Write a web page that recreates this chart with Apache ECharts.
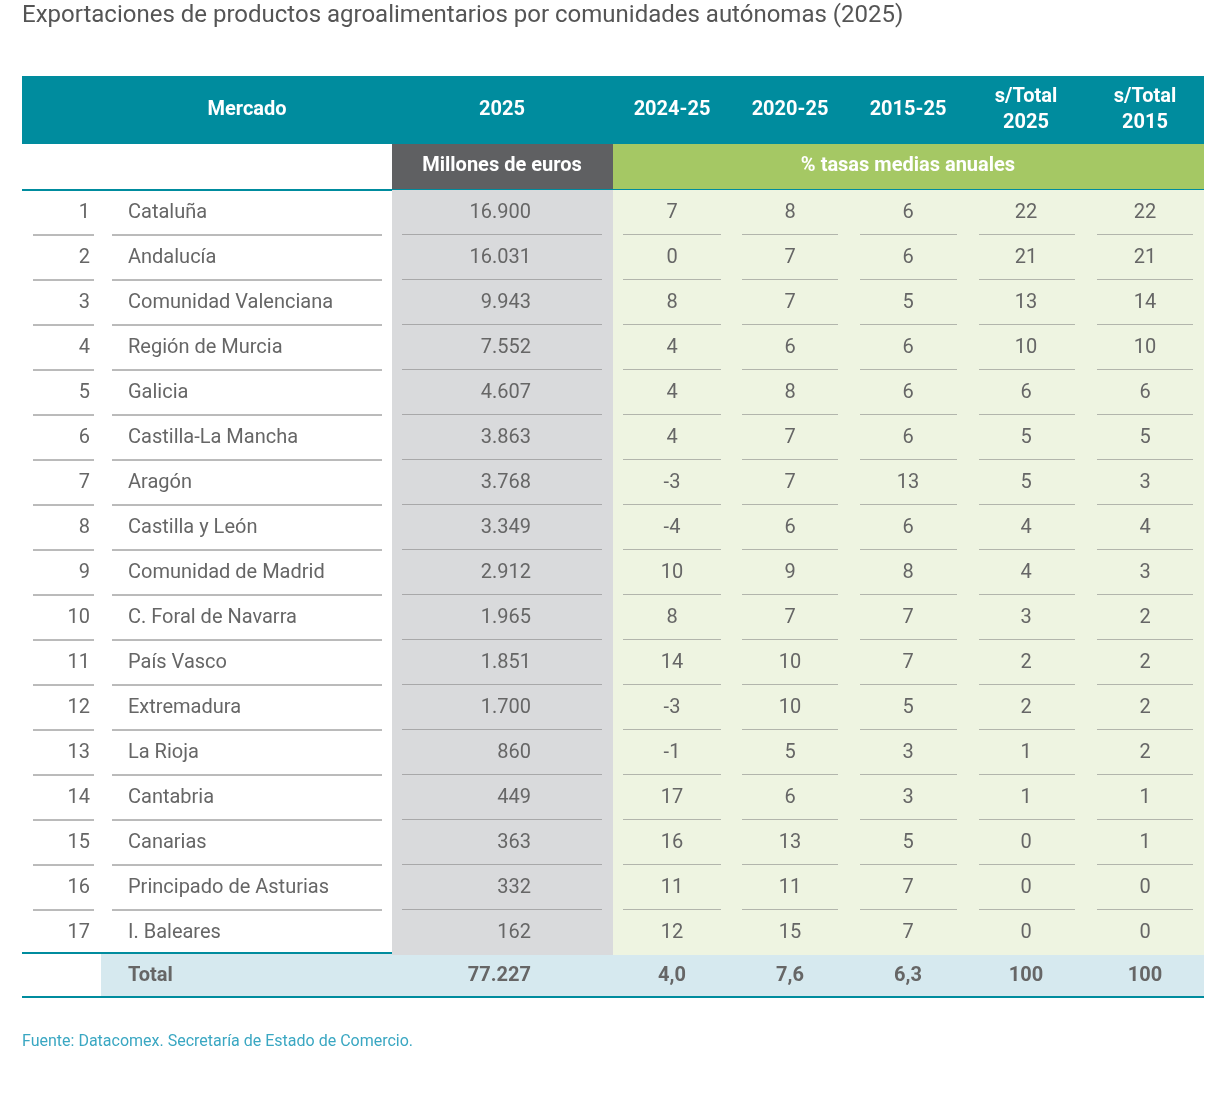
<!DOCTYPE html>
<html><head><meta charset="utf-8">
<script src="https://cdn.jsdelivr.net/npm/echarts@6/dist/echarts.min.js"></script>
<style>html,body{margin:0;background:#fff}#c{width:1232px;height:1110px}</style>
</head><body><div id="c"></div>
<script>
const regions = ["Cataluña","Andalucía","Comunidad Valenciana","Región de Murcia","Galicia","Castilla-La Mancha","Aragón","Castilla y León","Comunidad de Madrid","C. Foral de Navarra","País Vasco","Extremadura","La Rioja","Cantabria","Canarias","Principado de Asturias","I. Baleares"];
const exports2025 = ["16.900","16.031","9.943","7.552","4.607","3.863","3.768","3.349","2.912","1.965","1.851","1.700","860","449","363","332","162"];
const rate2425 = [7,0,8,4,4,4,-3,-4,10,8,14,-3,-1,17,16,11,12];
const rate2025 = [8,7,7,6,8,7,7,6,9,7,10,10,5,6,13,11,15];
const rate1525 = [6,6,5,6,6,6,13,6,8,7,7,5,3,3,5,7,7];
const share2025 = [22,21,13,10,6,5,5,4,4,3,2,2,1,1,0,0,0];
const share2015 = [22,21,14,10,6,5,3,4,3,2,2,2,2,1,1,0,0];
const headers = ["Mercado","2025","2024-25","2020-25","2015-25","s/Total\n2025","s/Total\n2015"];
const totals = ["Total","77.227","4,0","7,6","6,3","100","100"];

const F = "'Liberation Sans Narrow','Arial Narrow','Roboto',sans-serif";
const TEAL = "#008c9e";
const rateCols = [672,790,908,1026,1145];
const segs = [[33,94],[112,382],[402,602],[623,721],[742,838],[860,957],[979,1075],[1097,1193]];
const chart = echarts.init(document.getElementById('c'));
const cats = regions.map((r,i)=>String(i));
chart.setOption({
  animation:false,
  grid:{left:0,right:0,top:190,height:765},
  xAxis:{type:'value',min:0,max:1232,show:false},
  yAxis:{type:'category',data:cats,inverse:true,show:false},
  graphic:[
    {type:'text',left:22,top:4,style:{text:"Exportaciones de productos agroalimentarios por comunidades autónomas (2025)",font:"24px "+F,fill:"#555"}},
    {type:'rect',shape:{x:22,y:76,width:1182,height:68},style:{fill:TEAL}},
    {type:'rect',shape:{x:392,y:144,width:221,height:45},style:{fill:"#5f6062"}},
    {type:'rect',shape:{x:613,y:144,width:591,height:45},style:{fill:"#a5c864"}},
    {type:'text',x:502,y:166,style:{text:"Millones de euros",font:"bold 20px "+F,fill:"#fff",align:'center',verticalAlign:'middle'}},
    {type:'text',x:908,y:166,style:{text:"% tasas medias anuales",font:"bold 20px "+F,fill:"#fff",align:'center',verticalAlign:'middle'}},
    {type:'rect',shape:{x:22,y:189,width:1182,height:2},style:{fill:TEAL}},
    {type:'rect',shape:{x:101,y:954,width:1103,height:43},style:{fill:"#d6e9ef"}},
    {type:'rect',shape:{x:22,y:952,width:1182,height:2},style:{fill:TEAL}},
    {type:'rect',shape:{x:22,y:996,width:1182,height:2},style:{fill:TEAL}},
    {type:'text',left:22,top:1034,style:{text:"Fuente: Datacomex. Secretaría de Estado de Comercio.",font:"16px "+F,fill:"#3aa7c2"}}
  ].concat(headers.map((h,i)=>{
    const xs=[247,502].concat(rateCols);
    return {type:'text',x:xs[i],y:110,style:{text:h,font:"bold 20px "+F,fill:"#fff",align:'center',verticalAlign:'middle',lineHeight:26}};
  })).concat(totals.map((t,i)=>{
    const xs=[128,531].concat(rateCols);
    return {type:'text',x:xs[i],y:976,style:{text:t,font:"bold 20px "+F,fill:"#666",align:i===0?'left':(i===1?'right':'center'),verticalAlign:'middle'}};
  })),
  series:[{
    type:'custom',
    data:regions.map((r,i)=>[i]),
    renderItem:(params,api)=>{
      const i=api.value(0);
      const c=api.coord([0,i]); const h=api.size([0,1])[1];
      const y=c[1], top=y-h/2, bot=y+h/2;
      const tx=(x,t,align)=>({type:'text',style:{x:x,y:y,text:String(t),font:"20px "+F,fill:"#666",align:align,verticalAlign:'middle'}});
      const ch=[
        {type:'rect',shape:{x:392,y:top,width:221,height:h},style:{fill:"#d9dadc"}},
        {type:'rect',shape:{x:613,y:top,width:591,height:h},style:{fill:"#eef4e1"}},
        tx(90,i+1,'right'), tx(128,regions[i],'left'), tx(531,exports2025[i],'right')
      ];
      [rate2425,rate2025,rate1525,share2025,share2015].forEach((arr,k)=>ch.push(tx(rateCols[k],arr[i],'center')));
      if(i<regions.length-1) segs.forEach(s=>ch.push({type:'line',shape:{x1:s[0],y1:bot,x2:s[1],y2:bot},style:{stroke:"#777",lineWidth:1}}));
      return {type:'group',children:ch};
    }
  }]
});
</script></body></html>
